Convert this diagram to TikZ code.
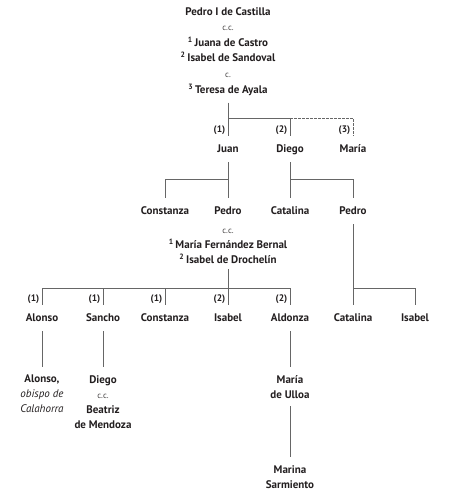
\documentclass[tikz,border=0pt]{standalone}
\usepackage{fontspec}
\setmainfont{PT Sans}
\usepackage{xcolor}
\usepackage{tikz}
\usetikzlibrary{positioning}

\definecolor{ink}{HTML}{231F20}
\definecolor{linegray}{HTML}{666666}
\newcommand{\wf}[1]{\textsuperscript{#1}\,}
\newcommand{\cc}[1]{{\mdseries\fontsize{8.5}{15}\selectfont\color{ink!85}#1}}

\begin{document}
\begin{tikzpicture}[x=1pt, y=-1pt,
			person/.style={font=\bfseries\fontsize{11}{15}\selectfont, text=ink,
					anchor=north, text height=8pt, text depth=2pt, inner xsep=1pt, inner ysep=8pt},
			group/.style={font=\bfseries\fontsize{11}{15}\selectfont, text=ink,
					align=center, anchor=north, inner xsep=1pt, inner ysep=8pt},
			num/.style={font=\bfseries\fontsize{9.5}{11}\selectfont, text=ink,
					anchor=base east, inner sep=0pt},
			tie/.style={draw=linegray, line width=0.8pt},
			dashtie/.style={tie, dash pattern=on 2.5pt off 1.5pt}
		]
		\useasboundingbox (0,0) rectangle (451,500);

		% Pedro I and his wives
		\node[group, inner ysep=7pt, font=\bfseries\fontsize{11}{15.6}\selectfont] (head) at (228,0)
			{Pedro I de Castilla\\ \cc{c.c.}\\ \wf{1}Juana de Castro\\ \wf{2}Isabel de Sandoval\\
			 \cc{c.}\\ \wf{3}Teresa de Ayala};

		% children
		\node[person] (juan) at (228,136) {Juan};
		\node[person] (diego) at (290,136) {Diego};
		\node[person] (maria) at (353,136) {María};

		% grandchildren
		\node[person] (constanza) at (165,198) {Constanza};
		\node[person] (pedro) at (228,198) {Pedro};
		\node[group, below=0pt of pedro, inner ysep=5pt] (wives)
			{\cc{c.c.}\\ \wf{1}María Fernández Bernal\\ \wf{2}Isabel de Drochelín};
		\node[person] (catalina) at (290,198) {Catalina};
		\node[person] (pedroB) at (353,198) {Pedro};

		% great-grandchildren
		\node[person] (alonso) at (42,305) {Alonso};
		\node[person] (sancho) at (103,305) {Sancho};
		\node[person] (constanzaB) at (165,305) {Constanza};
		\node[person] (isabel) at (228,305) {Isabel};
		\node[person] (aldonza) at (290,305) {Aldonza};
		\node[person] (catalinaB) at (353,305) {Catalina};
		\node[person] (isabelB) at (415,305) {Isabel};

		% last generations
		\node[group] (obispo) at (42,367) {Alonso,\\ \mdseries\itshape obispo de\\ \mdseries\itshape Calahorra};
		\node[group] (diegoB) at (103,367) {Diego\\ \cc{c.c.}\\ Beatriz\\ de Mendoza};
		\node[group] (ulloa) at (290,367) {María\\ de Ulloa};
		\node[group] (marina) at (290,457) {Marina\\ Sarmiento};

		% bars
		\coordinate (bar1) at (0,118);
		\coordinate (bar2) at (0,179);
		\coordinate (bar3) at (0,288);

		% Connections
		\draw[tie] (head) -- (juan);
		\draw[tie] (head |- bar1) -| (diego);
		\draw[dashtie] (diego |- bar1) -| (maria);
		\draw[tie] (juan) -- (pedro);
		\draw[tie] (juan |- bar2) -| (constanza);
		\draw[tie] (diego) -- (catalina);
		\draw[tie] (diego |- bar2) -| (pedroB);
		\draw[tie] (wives) -- (isabel);
		\foreach \c in {alonso, sancho, constanzaB, aldonza}
			\draw[tie] (wives |- bar3) -| (\c);
		\draw[tie] (pedroB) -- (catalinaB);
		\draw[tie] (pedroB |- bar3) -| (isabelB);
		\draw[tie] (alonso) -- (obispo);
		\draw[tie] (sancho) -- (diegoB);
		\draw[tie] (aldonza) -- (ulloa);
		\draw[tie] (ulloa) -- (marina);

		% marriage numbers
		\foreach \c/\r in {juan/1, diego/2, maria/3, alonso/1, sancho/1, constanzaB/1, isabel/2, aldonza/2}
			\node[num] (r-\c) at ([shift={(-2.5pt,4pt)}]\c.north) {(\r)};
	\end{tikzpicture}
\end{document}
